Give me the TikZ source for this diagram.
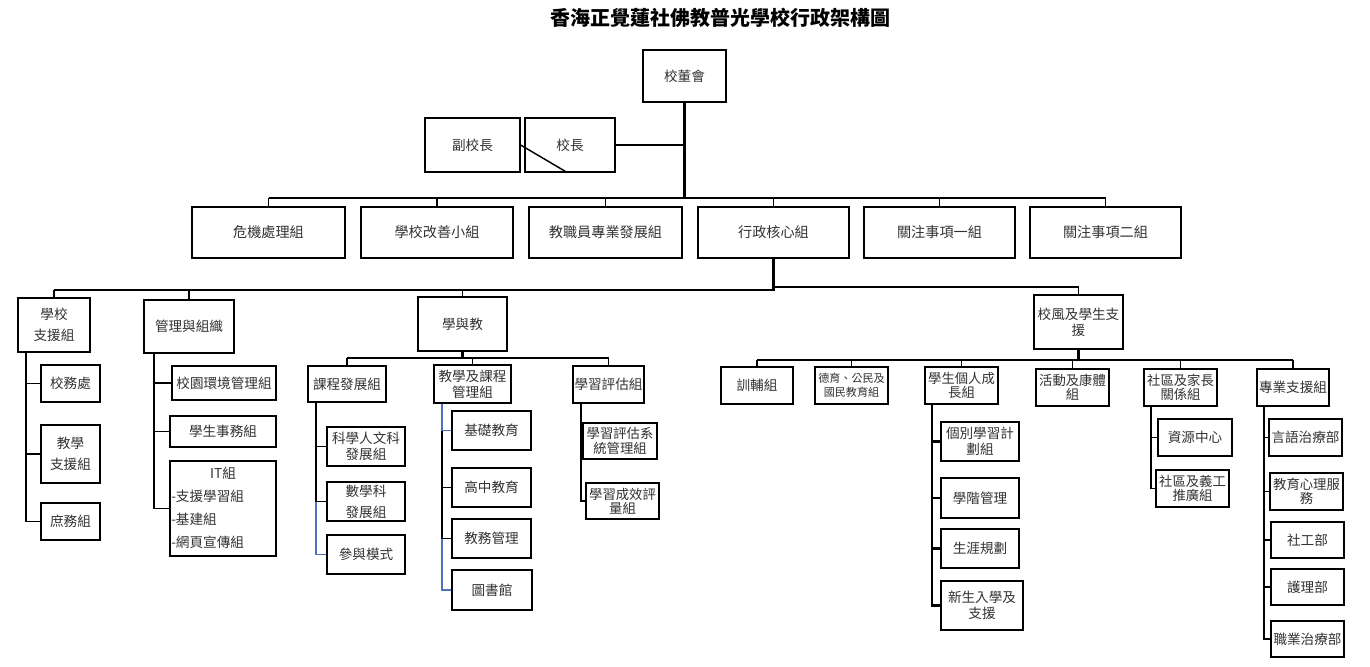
\documentclass[tikz,border=0pt]{standalone}
\usepackage{fontspec}
\setmainfont{Noto Sans CJK TC}
\definecolor{lnblue}{RGB}{79,113,190}
\definecolor{txtc}{RGB}{50,50,50}
\newcommand\bx[7][]{\node[box,minimum width={(#5-#3)*0.75pt},minimum height={(#6-#4)*0.75pt},#1] (#2) at ({(#3+#5)/2},{(#4+#6)/2}) {#7};}
\begin{document}
\begin{tikzpicture}[x=0.75pt,y=-0.75pt,
  box/.style={draw=black, line width=0.9pt, inner sep=0pt, align=center, text=txtc, font=\fontsize{10.2}{12}\selectfont},
  big/.style={font=\fontsize{10.6}{12.5}\selectfont},
  small/.style={font=\fontsize{8.3}{10.5}\selectfont},
  tight/.style={font=\fontsize{10}{10.8}\selectfont},
  txt/.style={inner sep=0pt, text=txtc, font=\fontsize{10.2}{12}\selectfont},
  ln/.style={draw=black, line width=0.8pt},
  bar/.style={draw=black, line width=1.2pt},
  thk/.style={draw=black, line width=1.6pt},
  trk/.style={draw=black, line width=1.1pt},
  bl/.style={draw=lnblue, line width=0.9pt}]
\useasboundingbox (0,0) rectangle (1370,667);
\fill[white] (0,0) rectangle (1370,667);
% title
\node[inner sep=0pt, font=\bfseries\fontsize{15}{18}\selectfont] (title) at (720,18) {香海正覺蓮社佛教普光學校行政架構圖};
% row 1
\bx{xdh}{643}{50}{726}{102}{校董會}
\bx{fxz}{425}{118}{520}{172}{副校長}
\bx{xz}{525}{118}{615}{172}{校長}
% row 2
\bx[big]{r1}{192}{207}{345}{258}{危機處理組}
\bx[big]{r2}{361}{207}{513}{258}{學校改善小組}
\bx[big]{r3}{529}{207}{682}{258}{教職員專業發展組}
\bx[big]{r4}{698}{207}{849}{258}{行政核心組}
\bx[big]{r5}{864}{207}{1015}{258}{關注事項一組}
\bx[big]{r6}{1030}{207}{1181}{258}{關注事項二組}
% row 3
\bx{a}{18}{298}{90}{352}{學校\\[4pt]支援組}
\bx{b}{144}{300}{234}{353}{管理與組織}
\bx{c}{418}{297}{507}{351}{學與教}
\bx{d}{1034}{295}{1123}{349}{校風及學生支\\援}
% column a
\bx{a1}{41}{365}{100}{402}{校務處}
\bx{a2}{41}{425}{100}{483}{教學\\[4pt]支援組}
\bx{a3}{41}{503}{100}{540}{庶務組}
% column b
\bx{b1}{172}{366}{276}{400}{校園環境管理組}
\bx{b2}{170}{416}{276}{447}{學生事務組}
\bx{b3}{170}{461}{276}{556}{}
\node[txt] (it0) at (223,473) {IT組};
\node[txt, anchor=west] (it1) at (171,496) {-支援學習組};
\node[txt, anchor=west] (it2) at (171,519) {-基建組};
\node[txt, anchor=west] (it3) at (171,542) {-網頁宣傳組};
% column c
\bx{c1}{308}{366}{386}{402}{課程發展組}
\bx{c2}{434}{365}{511}{403}{教學及課程\\管理組}
\bx{c3}{573}{366}{644}{403}{學習評估組}
\bx{c11}{327}{427}{405}{466}{科學人文科\\發展組}
\bx{c12}{327}{482}{405}{521}{數學科\\[4pt]發展組}
\bx{c13}{327}{535}{405}{574}{參與模式}
\bx{c21}{452}{411}{531}{450}{基礎教育}
\bx{c22}{452}{468}{531}{507}{高中教育}
\bx{c23}{452}{519}{531}{558}{教務管理}
\bx{c24}{452}{570}{532}{610}{圖書館}
\bx[tight]{c31}{583}{423}{657}{459}{學習評估系\\統管理組}
\bx[tight]{c32}{586}{483}{659}{519}{學習成效評\\量組}
% column d
\bx{d1}{721}{367}{793}{404}{訓輔組}
\bx[small]{d2}{815}{367}{888}{404}{德育、公民及\\國民教育組}
\bx[tight]{d3}{925}{367}{998}{404}{學生個人成\\長組}
\bx[tight]{d4}{1036}{369}{1109}{406}{活動及康體\\組}
\bx[tight]{d5}{1144}{369}{1217}{406}{社區及家長\\關係組}
\bx{d6}{1257}{369}{1329}{406}{專業支援組}
\bx{d31}{941}{422}{1019}{461}{個別學習計\\劃組}
\bx{d32}{941}{478}{1019}{518}{學階管理}
\bx{d33}{941}{529}{1019}{568}{生涯規劃}
\bx{d34}{941}{581}{1023}{630}{新生入學及\\支援}
\bx{d51}{1158}{419}{1232}{456}{資源中心}
\bx[tight]{d52}{1156}{470}{1229}{507}{社區及義工\\推廣組}
\bx{d61}{1269}{419}{1342}{456}{言語治療部}
\bx[tight]{d62}{1270}{473}{1343}{510}{教育心理服\\務}
\bx{d63}{1271}{522}{1344}{558}{社工部}
\bx{d64}{1271}{569}{1344}{605}{護理部}
\bx{d65}{1271}{621}{1344}{657}{職業治療部}
% ---------- connectors ----------
\coordinate (bar1) at (0,198);
\coordinate (bar2) at (0,290);
\coordinate (bar2r) at (0,287);
\coordinate (bar3) at (0,358);
\coordinate (bar4) at (0,360);
\coordinate (ta) at (26,0);
\coordinate (tb) at (154,0);
\coordinate (tc1) at (316,0);
\coordinate (tc2) at (442,0);
\coordinate (tc3) at (581,0);
\coordinate (td3) at (932,0);
\coordinate (td5) at (1151,0);
\coordinate (td6) at (1264,0);
% top
\draw[thk] (xdh.south) -- (xdh.south |- bar1);
\draw[ln] (xz.east) -- (xz.east -| xdh.south);
\draw[trk] (fxz.east) -- ([xshift=32.25pt]xz.south west);
\draw[bar] (r1.north |- bar1) -- (r6.north |- bar1);
\foreach \n in {r1,r2,r3,r4,r5,r6} \draw[ln] (\n.north |- bar1) -- (\n.north);
% row 3
\draw[thk] (r4.south) -- (r4.south |- bar2) -- (b.north |- bar2);
\draw[ln] (b.north |- bar2) -- (a.north |- bar2);
\draw[ln] (r4.south |- bar2r) -- (d.north |- bar2r) -- (d.north);
\foreach \n in {a,b,c} \draw[ln] (\n.north |- bar2) -- (\n.north);
% column a, b
\foreach \n in {a1,a2,a3} \draw[trk] (a.south -| ta) |- (\n.west);
\foreach \n in {b1,b2,b3} \draw[trk] (b.south -| tb) |- (\n.west);
% column c
\draw[thk] (c.south) -- (c.south |- bar3);
\draw[ln] (c1.north |- bar3) -- (c3.north |- bar3);
\foreach \n in {c1,c2,c3} \draw[ln] (\n.north |- bar3) -- (\n.north);
\draw[trk] (c1.south -| tc1) |- (c11.west);
\draw[trk] (c1.south -| tc1) |- (c12.west);
\draw[bl] (c12.west -| tc1) |- (c13.west);
\draw[bl] (c2.south -| tc2) |- (c21.west);
\draw[trk] (c21.west -| tc2) |- (c22.west);
\draw[trk] (c21.west -| tc2) |- (c23.west);
\draw[bl] (c23.west -| tc2) |- (c24.west);
\foreach \n in {c31,c32} \draw[trk] (c3.south -| tc3) |- (\n.west);
% column d
\draw[thk] (d.south) -- (d.south |- bar4);
\draw[ln] (d1.north |- bar4) -- (d6.north |- bar4);
\foreach \n in {d1,d2,d3,d4,d5,d6} \draw[ln] (\n.north |- bar4) -- (\n.north);
\foreach \n in {d31,d32,d33,d34} \draw[thk] (d3.south -| td3) |- (\n.west);
\foreach \n in {d51,d52} \draw[trk] (d5.south -| td5) |- (\n.west);
\foreach \n in {d61,d62,d63,d64,d65} \draw[trk] (d6.south -| td6) |- (\n.west);
\end{tikzpicture}
\end{document}
